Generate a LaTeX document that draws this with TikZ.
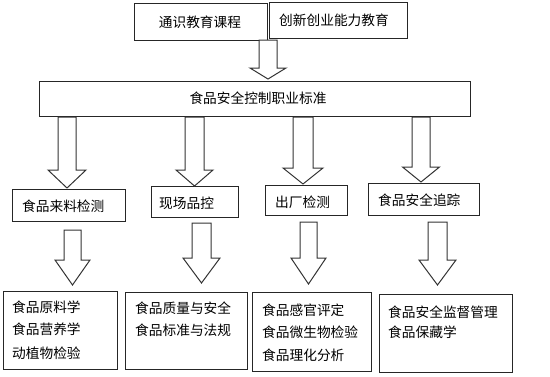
\documentclass[tikz,border=0pt]{standalone}
\usepackage{fontspec}
\setmainfont{Noto Sans CJK SC}
\begin{document}
\begin{tikzpicture}[x=1pt,y=-1pt,
  box/.style={draw=black!85,line width=1pt,rectangle,inner sep=0pt,anchor=north west,fill=white},
  txt/.style={inner sep=0pt,font=\fontsize{13.7}{16}\selectfont,text=black},
  ltxt/.style={txt,anchor=base west},
  barr/.style={draw=black!80,line width=1pt,fill=white,line join=miter}]
\useasboundingbox (0,0) rectangle (550,376);
\newcommand\blockarr[6]{%
  \draw[barr] ({#1-#2},#4) -- ({#1-#2},#5) -- ({#1-#3},#5) -- (#1,#6) -- ({#1+#3},#5) -- ({#1+#2},#5) -- ({#1+#2},#4) -- cycle;}
% top boxes
\node[box,minimum width=133,minimum height=37] (g1) at (134,3) {};
\node[txt] (g1t) at (200,22) {通识教育课程};
\node[box,minimum width=138,minimum height=36] (g2) at (269,2) {};
\node[txt] (g2t) at (334,20) {创新创业能力教育};
% main bar
\node[box,minimum width=431,minimum height=35] (bar) at (39,81) {};
\node[txt] (bart) at (258,98) {食品安全控制职业标准};
% middle boxes
\node[box,minimum width=113,minimum height=32] (m1) at (12,189) {};
\node[ltxt] (m1t) at (22,211) {食品来料检测};
\node[box,minimum width=87,minimum height=31] (m2) at (151,186) {};
\node[ltxt] (m2t) at (159,208) {现场品控};
\node[box,minimum width=82,minimum height=30] (m3) at (265,185) {};
\node[ltxt] (m3t) at (275,207) {出厂检测};
\node[box,minimum width=111,minimum height=32] (m4) at (368,183) {};
\node[ltxt] (m4t) at (378,205) {食品安全追踪};
% bottom boxes
\node[box,minimum width=114,minimum height=78] (b1) at (3,291) {};
\node[ltxt] (b1a) at (12,312) {食品原料学};
\node[ltxt] (b1b) at (12,334) {食品营养学};
\node[ltxt] (b1c) at (12,358) {动植物检验};
\node[box,minimum width=122,minimum height=77] (b2) at (125,292) {};
\node[ltxt] (b2a) at (135,313) {食品质量与安全};
\node[ltxt] (b2b) at (135,335) {食品标准与法规};
\node[box,minimum width=119,minimum height=79] (b3) at (252,292) {};
\node[ltxt] (b3a) at (262,315) {食品感官评定};
\node[ltxt] (b3b) at (262,337) {食品微生物检验};
\node[ltxt] (b3c) at (262,360) {食品理化分析};
\node[box,minimum width=133,minimum height=78] (b4) at (379,294) {};
\node[ltxt] (b4a) at (388,317) {食品安全监督管理};
\node[ltxt] (b4b) at (388,337) {食品保藏学};
% block arrows
\blockarr{268}{9}{18}{40}{68}{79}
\blockarr{67}{9}{19}{117}{170}{188}
\blockarr{194.5}{9.5}{18.5}{117}{170}{186}
\blockarr{303}{10}{20}{117}{168}{184}
\blockarr{421}{9}{18.5}{117}{167}{182}
\blockarr{72.5}{8.5}{17.5}{230}{260}{285}
\blockarr{201.5}{9.5}{18.5}{223}{258}{283}
\blockarr{308.5}{8.5}{17.5}{222}{258}{284}
\blockarr{437.5}{9.5}{18.5}{222}{260}{285}
\end{tikzpicture}
\end{document}
